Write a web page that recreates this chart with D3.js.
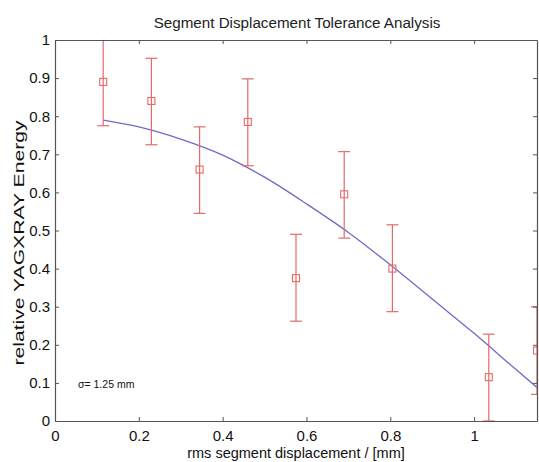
<!DOCTYPE html>
<html>
<head>
<meta charset="utf-8">
<script src="https://cdn.jsdelivr.net/npm/d3@7"></script>
<style>
  body { margin: 0; background: #fff; }
  text { font-family: "Liberation Sans", Arial, sans-serif; }
</style>
</head>
<body>
<div id="canvas"></div>
<script>
// measured points with error bars
const dispX = [0.115, 0.23, 0.345, 0.46, 0.575, 0.69, 0.805, 1.035, 1.15];
const energy = [0.89, 0.84, 0.66, 0.785, 0.375, 0.595, 0.40, 0.115, 0.185];
const errLow = [0.775, 0.725, 0.545, 0.67, 0.262, 0.48, 0.287, 0.0, 0.07];
const errHigh = [1.005, 0.952, 0.772, 0.898, 0.49, 0.707, 0.515, 0.228, 0.30];

// fitted curve
const fitX = [0.115, 0.2, 0.3, 0.4, 0.5, 0.6, 0.7, 0.8, 0.9, 1.0, 1.1, 1.15];
const fitY = [0.79, 0.772, 0.74, 0.698, 0.64, 0.57, 0.495, 0.41, 0.32, 0.23, 0.135, 0.088];

const xTicks = [0, 0.2, 0.4, 0.6, 0.8, 1];
const yTicks = [0, 0.1, 0.2, 0.3, 0.4, 0.5, 0.6, 0.7, 0.8, 0.9, 1];

const margin = { top: 40, right: 2, bottom: 41, left: 55 },
    width = 539 - margin.left - margin.right,
    height = 462 - margin.top - margin.bottom;

const svgRoot = d3.select("#canvas")
    .append("svg")
    .attr("width", 539)
    .attr("height", 462);

const svg = svgRoot.append("g")
    .attr("transform", `translate(${margin.left},${margin.top})`);

const x = d3.scaleLinear().domain([0, 1.15]).range([0, width]);
const y = d3.scaleLinear().domain([0, 1]).range([height, 0]);

svg.append("defs").append("clipPath")
    .attr("id", "plotclip")
    .append("rect")
    .attr("width", width)
    .attr("height", height);

// Title
svgRoot.append("text")
    .attr("x", 297)
    .attr("y", 28)
    .attr("text-anchor", "middle")
    .attr("font-size", 15.2)
    .attr("fill", "#222")
    .text("Segment Displacement Tolerance Analysis");

const plot = svg.append("g").attr("clip-path", "url(#plotclip)");

// Fit curve
plot.append("path")
    .datum(fitX.map((d, i) => ({ x: d, y: fitY[i] })))
    .attr("fill", "none")
    .attr("stroke", "#6c6cc8")
    .attr("stroke-width", 1.3)
    .attr("d", d3.line()
        .x(d => x(d.x))
        .y(d => y(d.y))
        .curve(d3.curveMonotoneX));

// Error bars
const red = "#e46a6a";
const pts = dispX.map((d, i) => ({ x: d, y: energy[i], lo: errLow[i], hi: errHigh[i] }));

plot.append("g")
    .selectAll("line")
    .data(pts)
    .join("line")
    .attr("x1", d => x(d.x))
    .attr("x2", d => x(d.x))
    .attr("y1", d => y(d.lo))
    .attr("y2", d => y(d.hi))
    .attr("stroke", red)
    .attr("stroke-width", 1.2);

["lo", "hi"].forEach(k => {
    plot.append("g")
        .selectAll("line")
        .data(pts)
        .join("line")
        .attr("x1", d => x(d.x) - 6)
        .attr("x2", d => x(d.x) + 6)
        .attr("y1", d => y(d[k]))
        .attr("y2", d => y(d[k]))
        .attr("stroke", red)
        .attr("stroke-width", 1.2);
});

// Square markers
plot.append("g")
    .selectAll("rect")
    .data(pts)
    .join("rect")
    .attr("x", d => x(d.x) - 3.5)
    .attr("y", d => y(d.y) - 3.5)
    .attr("width", 7)
    .attr("height", 7)
    .attr("fill", "none")
    .attr("stroke", red)
    .attr("stroke-width", 1.1);

// Axes: ticks inward on all four sides, drawn over the data
const axisColor = "#555";
const axBottom = svg.append("g")
    .attr("transform", `translate(0,${height})`)
    .call(d3.axisBottom(x).tickValues(xTicks).tickSizeInner(-4).tickSizeOuter(0).tickPadding(9).tickFormat(d3.format("")));
const axTop = svg.append("g")
    .call(d3.axisTop(x).tickValues(xTicks).tickSizeInner(-4).tickSizeOuter(0).tickFormat(""));
const axLeft = svg.append("g")
    .call(d3.axisLeft(y).tickValues(yTicks).tickSizeInner(-4).tickSizeOuter(0).tickPadding(5).tickFormat(d3.format("")));
const axRight = svg.append("g")
    .attr("transform", `translate(${width},0)`)
    .call(d3.axisRight(y).tickValues(yTicks).tickSizeInner(-4).tickSizeOuter(0).tickFormat(""));

[axBottom, axTop, axLeft, axRight].forEach(g => {
    g.selectAll("path").attr("stroke", axisColor).attr("stroke-width", 1.2);
    g.selectAll("line").attr("stroke", axisColor);
    g.selectAll("text").attr("font-size", 15).attr("fill", "#111")
        .attr("font-family", "'Liberation Sans', Arial, sans-serif");
});

// Axis labels
svgRoot.append("text")
    .attr("x", 296)
    .attr("y", 458)
    .attr("text-anchor", "middle")
    .attr("font-size", 14.5)
    .attr("fill", "#111")
    .text("rms segment displacement / [mm]");

svgRoot.append("text")
    .attr("transform", "translate(24,243) rotate(-90)")
    .attr("text-anchor", "middle")
    .attr("font-size", 15)
    .attr("textLength", 245)
    .attr("lengthAdjust", "spacingAndGlyphs")
    .attr("fill", "#111")
    .text("relative YAGXRAY Energy");

// Annotation
svg.append("text")
    .attr("x", 23)
    .attr("y", 348)
    .attr("font-size", 10.5)
    .attr("fill", "#111")
    .text("σ=  1.25 mm");
</script>
</body>
</html>
